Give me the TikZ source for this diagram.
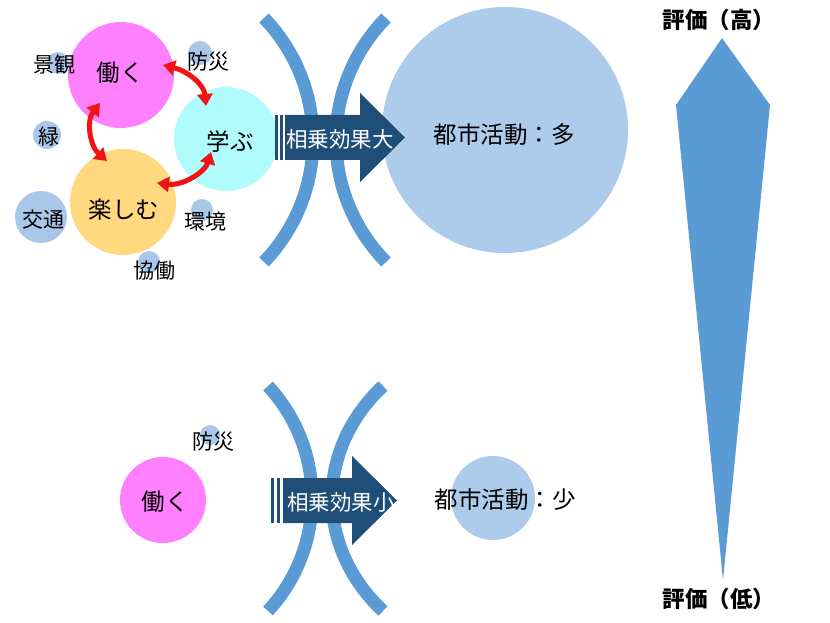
\documentclass[tikz,border=0pt]{standalone}
\usepackage{fontspec}
\newfontfamily\jp{Noto Sans CJK JP}
\usetikzlibrary{arrows.meta}
\definecolor{pinkc}{HTML}{FF80FF}
\definecolor{cyanc}{HTML}{B0FCFC}
\definecolor{yelc}{HTML}{FFD880}
\definecolor{dotc}{HTML}{A9C7E8}
\definecolor{bigc}{HTML}{ADCBEA}
\definecolor{arcc}{HTML}{5B9BD5}
\definecolor{navyc}{HTML}{1F4E79}
\definecolor{redc}{HTML}{F01414}
\begin{document}
\begin{tikzpicture}[x=1pt,y=-1pt,
  disc/.style={circle,inner sep=0pt,minimum size=#1,draw=none},
  lab/.style={font=\jp\fontsize{21}{25}\selectfont,inner sep=0pt,text=black},
  mainlab/.style={font=\jp\fontsize{23.5}{27}\selectfont,inner sep=0pt,text=black},
  arrlab/.style={font=\jp\fontsize{21.5}{25}\selectfont,inner sep=0pt,text=white},
  evallab/.style={font=\jp\bfseries\fontsize{22.5}{26}\selectfont,inner sep=0pt,text=black},
  bracket/.style={draw=arcc,line width=13pt},
  redarr/.style={draw=redc,line width=5pt,{Triangle[length=12pt,width=15pt]}-{Triangle[length=12pt,width=15pt]}},
  bar/.style={fill=navyc,draw=none},
]
\useasboundingbox (0,0) rectangle (830,623);

% ---------- top panel: small circles ----------
\node[disc=22pt,fill=dotc] (dKeikan) at (58,63) {};
\node[disc=24pt,fill=dotc] (dBousai) at (200,53) {};
\node[disc=28pt,fill=dotc] (dMidori) at (47,135) {};
\node[disc=52pt,fill=dotc] (dKoutsu) at (41,217) {};
\node[disc=22pt,fill=dotc] (dKankyo) at (202,210) {};
\node[disc=22pt,fill=dotc] (dKyodo) at (149,262) {};

% ---------- top panel: main circles ----------
\node[disc=106pt,fill=pinkc] (hataraku) at (121,75) {};
\node[disc=104pt,fill=cyanc] (manabu) at (226,139) {};
\node[disc=106pt,fill=yelc] (tanoshimu) at (123,202) {};

\node[lab] (tKeikan) at (54,65) {景観};
\node[lab] (tBousai) at (208,62) {防災};
\node[lab] (tMidori) at (49,137) {緑};
\node[lab] (tKoutsu) at (44,220) {交通};
\node[lab] (tKankyo) at (205,222) {環境};
\node[lab] (tKyodo) at (154,271) {協働};
\node[mainlab] (tHataraku) at (120,73) {働く};
\node[mainlab] (tManabu) at (230,142) {学ぶ};
\node[mainlab] (tTanoshimu) at (124,210) {楽しむ};

% red double arrows
\coordinate (h1) at (163,65);
\coordinate (m1) at (206,106);
\coordinate (m2) at (211,152);
\coordinate (t1) at (157,183);
\coordinate (h2) at (100,103);
\coordinate (t2) at (107,161);
\draw[redarr] (h1) .. controls (187,71) and (204,84) .. (m1);
\draw[redarr] (m2) .. controls (205,172) and (183,186) .. (t1);
\draw[redarr] (h2) .. controls (86,121) and (90,146) .. (t2);

% ---------- top panel: brackets ----------
\draw[bracket] (264,18) .. controls (329.4,86.2) and (329.4,193.8) .. (264,262);
\draw[bracket] (386,18) .. controls (319.3,86.2) and (319.3,193.8) .. (386,262);

% big circle
\node[disc=246pt,fill=bigc] (cityBig) at (505,130) {};
\node[mainlab] (tCityBig) at (504,135) {都市活動：多};

% striped arrow (top)
\fill[bar] (275,115) rectangle (278.3,160);
\fill[bar] (280,115) rectangle (283.3,160);
\fill[navyc] (285,115) -- (360,115) -- (360,93) -- (405,137.5) -- (360,182) -- (360,160) -- (285,160) -- cycle;
\node[arrlab] (tSynBig) at (340,139) {相乗効果大};

% ---------- bottom panel ----------
\node[disc=20pt,fill=dotc] (dBousai2) at (210,435) {};
\node[disc=86pt,fill=pinkc] (hataraku2) at (163,500) {};
\node[lab] (tBousai2) at (213,442) {防災};
\node[mainlab] (tHataraku2) at (165,502) {働く};

\draw[bracket] (268,386) .. controls (326.7,449.5) and (326.7,547.5) .. (268,611);
\draw[bracket] (383,386) .. controls (315,449.5) and (315,547.5) .. (383,611);

\fill[bar] (271,478) rectangle (274.3,523);
\fill[bar] (277,478) rectangle (280.3,523);
\fill[navyc] (283,478) -- (352,478) -- (352,456) -- (397,500.5) -- (352,545) -- (352,523) -- (283,523) -- cycle;
\node[arrlab] (tSynSmall) at (341,502) {相乗効果小};

\node[disc=84pt,fill=bigc] (citySmall) at (493,498) {};
\node[mainlab] (tCitySmall) at (505,500) {都市活動：少};

% ---------- evaluation arrow ----------
\fill[arcc] (722,38) -- (770,105) -- (723,580) -- (676,105) -- cycle;
\node[evallab] (tHigh) at (719,20) {評価（高）};
\node[evallab] (tLow) at (719,599) {評価（低）};
\end{tikzpicture}
\end{document}
